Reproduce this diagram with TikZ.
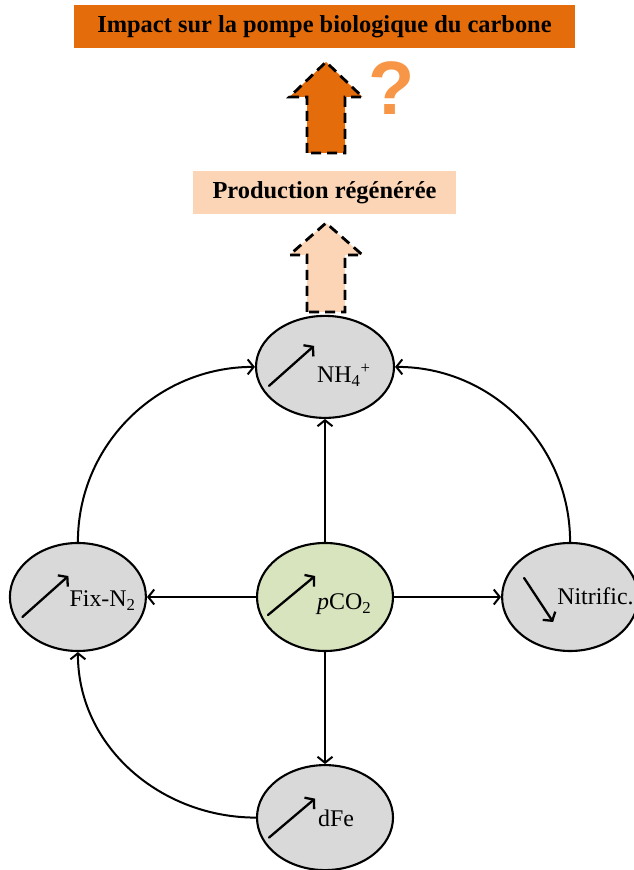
\documentclass[tikz,border=0pt]{standalone}
\usepackage{fontspec}
\setmainfont{Liberation Serif}
\newfontfamily\qfont{Liberation Sans}
\usepackage{tikz}
\usetikzlibrary{arrows.meta, positioning, shapes.geometric}
\usepackage{xcolor}
\definecolor{pumporange}{HTML}{E46C0A}
\definecolor{qorange}{HTML}{F79646}
\definecolor{regenpeach}{HTML}{FBD5B5}
\definecolor{poolgray}{HTML}{D9D9D9}
\definecolor{co2green}{HTML}{D7E4BD}

\begin{document}
\begin{tikzpicture}[
    x=1bp, y=1bp,
    node distance=110bp,
    banner/.style={rectangle, inner sep=0pt, font=\fontsize{24.5}{28}\selectfont\bfseries},
    pool/.style={ellipse, draw=black, line width=2.1bp, fill=poolgray,
                 minimum width=136bp, minimum height=106bp, inner sep=0pt},
    poollabel/.style={anchor=base west, inner sep=0pt, font=\fontsize{24}{28}\selectfont},
    trend/.style={-{Straight Barb[length=6bp, width=15bp]}, line width=2.3bp, line cap=round},
    flux/.style={-{Straight Barb[length=6bp, width=15bp]}, line width=2bp},
    bigarrow/.style={draw=black, line width=2.8bp, dash pattern=on 10bp off 6bp, line join=miter},
]
    \useasboundingbox (0,0) rectangle (634,870);

    % Top boxes
    \node[banner, fill=pumporange, minimum width=501bp, minimum height=43bp] (impact) at (324.5,843.5)
        {Impact sur la pompe biologique du carbone};
    \node[banner, fill=regenpeach, minimum width=263bp, minimum height=43bp] (prod) at (324.5,677.5)
        {Production régénérée};
    \node[text=qorange, font=\qfont\fontsize{76}{80}\selectfont\bfseries, inner sep=0pt] (quest) at (392,782) {?};

    % Block arrows (dashed)
    \coordinate (upA) at (326,717);
    \coordinate (upB) at (326,558);
    \draw[bigarrow, fill=pumporange] (upA) ++(-19,0) -- ++(0,56) -- ++(-17.5,0) -- ++(36.5,35)
        -- ++(36.5,-35) -- ++(-17.5,0) -- ++(0,-56) -- cycle;
    \draw[bigarrow, fill=regenpeach] (upB) ++(-19,0) -- ++(0,57) -- ++(-17.5,0) -- ++(36.5,32)
        -- ++(36.5,-32) -- ++(-17.5,0) -- ++(0,-57) -- cycle;

    % Pools
    \node[pool, fill=co2green, minimum height=108bp] (pco2) at (325,273) {};
    \node[pool, minimum width=138bp, minimum height=102bp, above=123bp of pco2] (nh4) {};
    \node[pool, minimum height=108bp, left=109bp of pco2] (fixn) {};
    \node[pool, minimum height=108bp, right=107bp of pco2] (nitrif) {};
    \node[pool, minimum height=105bp, below=112bp of pco2] (dfe) {};

    % Labels and trends
    \node[poollabel] (nh4txt) at ([shift={(-8,-16)}]nh4.center) {NH\textsubscript{4}\textsuperscript{+}};
    \draw[trend] ([shift={(-56,-19)}]nh4.center) -- ([shift={(-11,21)}]nh4.center);
    \node[poollabel] (fixtxt) at ([shift={(-8.5,-10)}]fixn.center) {Fix-N\textsubscript{2}};
    \draw[trend] ([shift={(-55.5,-20)}]fixn.center) -- ([shift={(-9.5,21)}]fixn.center);
    \node[poollabel] (co2txt) at ([shift={(-8,-13)}]pco2.center) {\textit{p}CO\textsubscript{2}};
    \draw[trend] ([shift={(-57,-18)}]pco2.center) -- ([shift={(-10,21)}]pco2.center);
    \node[poollabel] (nittxt) at ([shift={(-13,-8)}]nitrif.center) {Nitrific.};
    \draw[trend] ([shift={(-46,19)}]nitrif.center) -- ([shift={(-17,-25)}]nitrif.center);
    \node[poollabel] (dfetxt) at ([shift={(-7,-9)}]dfe.center) {dFe};
    \draw[trend] ([shift={(-56,-20)}]dfe.center) -- ([shift={(-10,19)}]dfe.center);

    % Connections
    \draw[flux] (pco2.north) -- (nh4.south);
    \draw[flux] (pco2.west) -- (fixn.east);
    \draw[flux] (pco2.east) -- (nitrif.west);
    \draw[flux] (pco2.south) -- (dfe.north);
    \draw[flux] (fixn.north) to[out=90, in=180] (nh4.west);
    \draw[flux] (nitrif.north) to[out=90, in=0] (nh4.east);
    \draw[flux] (dfe.west) to[out=180, in=-90] (fixn.south);
\end{tikzpicture}
\end{document}
